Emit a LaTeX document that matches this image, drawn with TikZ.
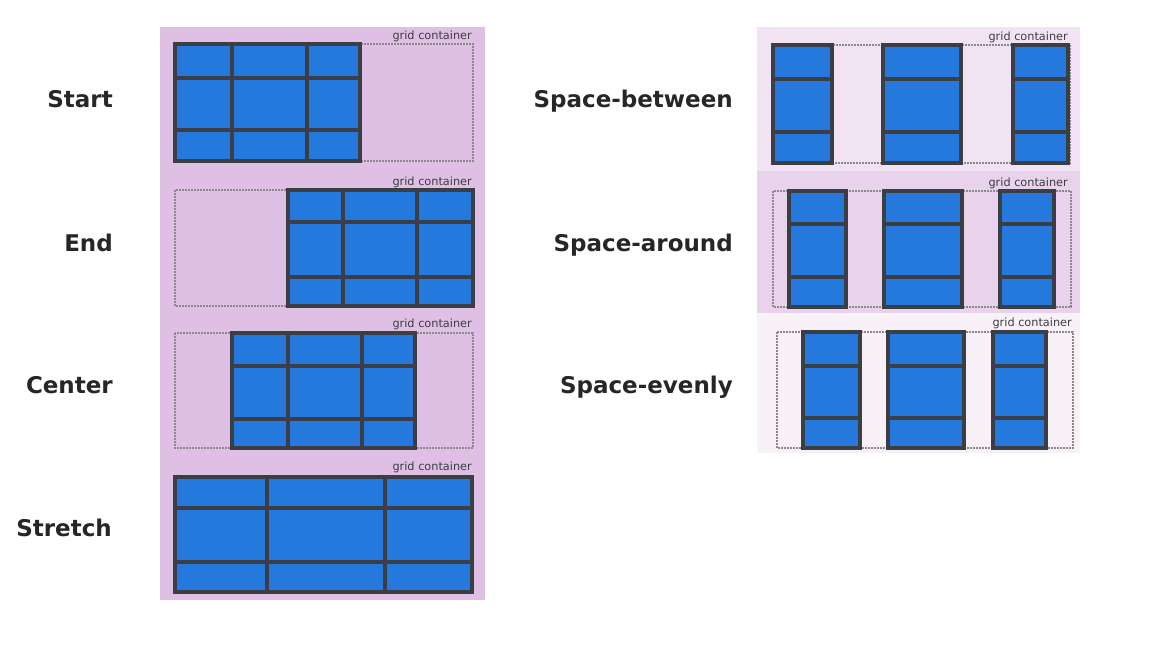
\documentclass[tikz,border=0pt]{standalone}
\usepackage{fontspec}
\setmainfont{DejaVu Sans}
\usetikzlibrary{calc}

\definecolor{leftbg}{HTML}{DFBFE4}
\definecolor{betweenbg}{HTML}{F1E3F3}
\definecolor{aroundbg}{HTML}{E9D2EC}
\definecolor{evenlybg}{HTML}{F8F1F8}
\definecolor{cellblue}{HTML}{2578DC}
\definecolor{trackgray}{HTML}{3B3E44}
\definecolor{dashgray}{HTML}{8A8A8A}

\tikzset{
  container/.style={draw=dashgray, line width=1.2pt, dash pattern=on 2pt off 1pt},
  trackline/.style={draw=trackgray, line width=3.5pt},
  outerline/.style={draw=trackgray, line width=4.5pt},
  containerlabel/.style={anchor=base east, inner sep=0pt, text=trackgray,
    font=\fontsize{11.3}{13}\selectfont},
  rowlabel/.style={anchor=base east, inner sep=0pt, text=black!85,
    font=\fontsize{23}{26}\selectfont\bfseries}
}

% grid of tracks: x0 y0 x1 y1, inner column lines, inner row lines
\newcommand{\gridtracks}[6]{%
  \fill[cellblue] (#1,#2) rectangle (#3,#4);
  \foreach \xx in {#5} {\draw[trackline] (\xx,#2) -- (\xx,#4);}
  \foreach \yy in {#6} {\draw[trackline] (#1,\yy) -- (#3,\yy);}
  \draw[outerline] (#1,#2) rectangle (#3,#4);%
}

\begin{document}
\begin{tikzpicture}[x=1pt,y=-1pt]
  \useasboundingbox (0,0) rectangle (1152,648);

  % Panel backgrounds
  \fill[leftbg] (160,27) rectangle (485,600);
  \fill[betweenbg] (757,27) rectangle (1080,171);
  \fill[aroundbg] (757,171) rectangle (1080,313);
  \fill[evenlybg] (757,313) rectangle (1080,453);

  % Start
  \draw[container] (175,44) rectangle (473,161);
  \node[containerlabel] (startcap) at (472,39) {grid container};
  \gridtracks{175}{44}{360}{161}{232,307}{78,130}
  \node[rowlabel] (start) at (113,107) {Start};

  % End
  \draw[container] (175,190) rectangle (473,306);
  \node[containerlabel] (endcap) at (472,185) {grid container};
  \gridtracks{288}{190}{473}{306}{343,417}{222,277}
  \node[rowlabel] (end) at (113,251) {End};

  % Center
  \draw[container] (175,333) rectangle (473,448);
  \node[containerlabel] (centercap) at (472,327) {grid container};
  \gridtracks{232}{333}{415}{448}{288,362}{366,419}
  \node[rowlabel] (center) at (113,393) {Center};

  % Stretch
  \draw[container] (175,477) rectangle (473,592);
  \node[containerlabel] (stretchcap) at (472,470) {grid container};
  \gridtracks{175}{477}{472}{592}{267,385}{508,562}
  \node[rowlabel] (stretch) at (112,536) {Stretch};

  % Space-between
  \draw[container] (773,45) rectangle (1070,163);
  \node[containerlabel] (betweencap) at (1068,40) {grid container};
  \gridtracks{773}{45}{832}{163}{773}{79,132}
  \gridtracks{883}{45}{961}{163}{883}{79,132}
  \gridtracks{1013}{45}{1068}{163}{1013}{79,132}
  \node[rowlabel] (between) at (733,107) {Space-between};

  % Space-around
  \draw[container] (773,191) rectangle (1071,307);
  \node[containerlabel] (aroundcap) at (1068,186) {grid container};
  \gridtracks{789}{191}{846}{307}{789}{224,277}
  \gridtracks{884}{191}{962}{307}{884}{224,277}
  \gridtracks{1000}{191}{1054}{307}{1000}{224,277}
  \node[rowlabel] (around) at (733,251) {Space-around};

  % Space-evenly
  \draw[container] (777,332) rectangle (1073,448);
  \node[containerlabel] (evenlycap) at (1072,326) {grid container};
  \gridtracks{803}{332}{860}{448}{803}{366,418}
  \gridtracks{888}{332}{964}{448}{888}{366,418}
  \gridtracks{993}{332}{1046}{448}{993}{366,418}
  \node[rowlabel] (evenly) at (733,393) {Space-evenly};
\end{tikzpicture}
\end{document}
